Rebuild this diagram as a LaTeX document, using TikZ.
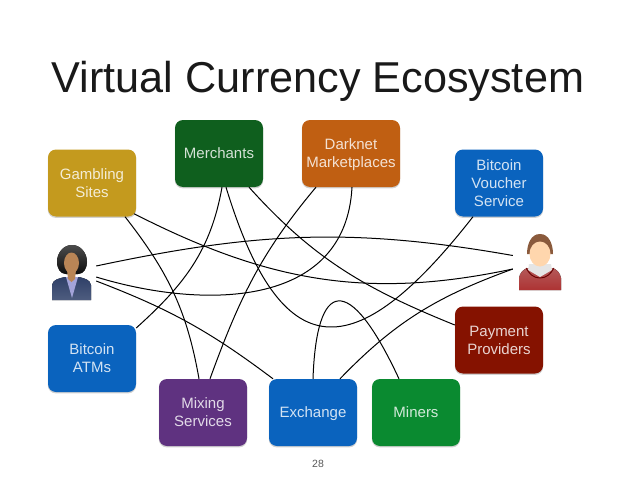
\documentclass[tikz,border=0pt]{standalone}
\usepackage{fontspec}
\setmainfont{Liberation Sans}
\usetikzlibrary{shadows}
\definecolor{goldbox}{HTML}{C49A1E}
\definecolor{merchbox}{HTML}{0F5F1E}
\definecolor{darkbox}{HTML}{C05F12}
\definecolor{bluebox}{HTML}{0A63BE}
\definecolor{maroonbox}{HTML}{851200}
\definecolor{purplebox}{HTML}{5F3280}
\definecolor{minerbox}{HTML}{0A8A30}
\definecolor{suitblue}{HTML}{2F4068}
\definecolor{skintan}{HTML}{B98556}
\definecolor{hairbrown}{HTML}{8A5A3C}
\tikzset{
  eco/.style={rounded corners=8pt,minimum width=88pt,minimum height=67pt,inner sep=0pt,align=center,
    text=white!82!#1,font=\fontsize{15}{18}\selectfont,fill=#1,text depth=0pt,
    general shadow={fill=black,opacity=0.18,shadow yshift=-1.2pt,shadow scale=1.005}},
  link/.style={draw=black,line width=1pt},
  icon/.style={minimum width=#1,minimum height=55pt,inner sep=0pt}
}

\begin{document}
\begin{tikzpicture}[x=1pt,y=-1pt]
  \useasboundingbox (0,0) rectangle (638,479);
  \fill[white] (0,0) rectangle (638,479);
  \node[text=black!90,text depth=0pt] (Title) at (318,76.5) {\fontsize{43.2}{50}\selectfont Virtual Currency Ecosystem};
  \node (PageNo) at (318,464) {\fontsize{10.5}{12}\selectfont\color{black!65}28};
  \node[eco=goldbox] (Gambling) at (92,183) {Gambling\\Sites};
  \node[eco=merchbox] (Merchants) at (219,153.5) {Merchants};
  \node[eco=darkbox,minimum width=98pt] (Darknet) at (351,153.5) {Darknet\\Marketplaces};
  \node[eco=bluebox] (Voucher) at (499,183) {Bitcoin\\Voucher\\Service};
  \node[eco=maroonbox] (Payment) at (499,340) {Payment\\Providers};
  \node[eco=bluebox] (ATMs) at (92,358.5) {Bitcoin\\ATMs};
  \node[eco=purplebox] (Mixing) at (203,412.5) {Mixing\\Services};
  \node[eco=bluebox] (Exchange) at (313,412.5) {Exchange};
  \node[eco=minerbox] (Miners) at (416,412.5) {Miners};
  \node[icon=48pt] (Woman) at (72,272.5) {};
  \node[icon=54pt] (Man) at (540,262) {};
  % woman
  \fill[top color=black!70,bottom color=black!95] (72,245) to[out=0,in=90] (87,262) to[out=-90,in=0] (78,274) -- (66,274) to[out=180,in=-90] (57,262) to[out=90,in=180] cycle;
  \fill[top color=suitblue,bottom color=suitblue!85!white] (52,300) -- (52,285) to[out=80,in=195] (65,277) -- (79,277) to[out=-15,in=100] (91,285) -- (91,300) -- cycle;
  \fill[blue!30!white!70!gray] (66,277) -- (78,277) -- (72,298) -- cycle;
  \fill[skintan] (71.5,263) ellipse (7.5 and 10.5);
  \fill[skintan] (67,270) -- (76,270) -- (75,279) -- (71.5,282) -- (68,279) -- cycle;
  % man
  \fill[top color=red!55!black!65!white,bottom color=red!60!black!80!white] (519,290) -- (519,278) to[out=80,in=195] (528,268) -- (552,268) to[out=-15,in=100] (561,278) -- (561,290) -- cycle;
  \fill[black!10] (529,264) -- (551,264) -- (552,270) -- (540,277) -- (528,270) -- cycle;
  \draw[red!40!black,line width=0.9pt] (526,268) to[out=-60,in=180] (540,278) to[out=0,in=-120] (554,268);
  \fill[hairbrown] (527,254) to[out=90,in=180] (540,234) to[out=0,in=90] (553,254) -- cycle;
  \fill[orange!32!white] (540,254) ellipse (10.5 and 12.5);
  % connectors
  \draw[link] ([yshift=6.5pt]Woman.east) to[out=12,in=170] ([yshift=6.5pt]Man.west);
  \draw[link] ([yshift=-4.5pt]Woman.east) to[out=-17,in=-93,out distance=109pt,in distance=123pt] ([xshift=1pt]Darknet.south);
  \draw[link] ([yshift=-8.5pt]Woman.east) to[bend left=8] ([xshift=-40pt]Exchange.north);
  \draw[link] ([xshift=33pt]Gambling.south) to[out=-52,in=100] ([xshift=-4pt]Mixing.north);
  \draw[link] ([xshift=42pt,yshift=3pt]Gambling.south) to[out=-27,in=-168] ([yshift=-7pt]Man.west);
  \draw[link] ([yshift=30.5pt]ATMs.east) to[out=42,in=-100] ([xshift=3pt]Merchants.south);
  \draw[link] ([xshift=7pt]Merchants.south) to[out=-73,in=-128,out distance=189pt,in distance=193pt] ([xshift=-26pt]Voucher.south);
  \draw[link] ([xshift=30pt]Merchants.south) to[out=-48,in=158] ([yshift=15pt]Payment.west);
  \draw[link] ([xshift=-35pt]Darknet.south) to[out=-130,in=70] ([xshift=7pt]Mixing.north);
  \draw[link] (Exchange.north) to[out=88,in=115,out distance=99pt,in distance=120pt] ([xshift=-17pt]Miners.north);
  \draw[link] ([xshift=27pt]Exchange.north) to[out=46,in=-160] ([yshift=-7pt]Man.west);
\end{tikzpicture}
\end{document}
